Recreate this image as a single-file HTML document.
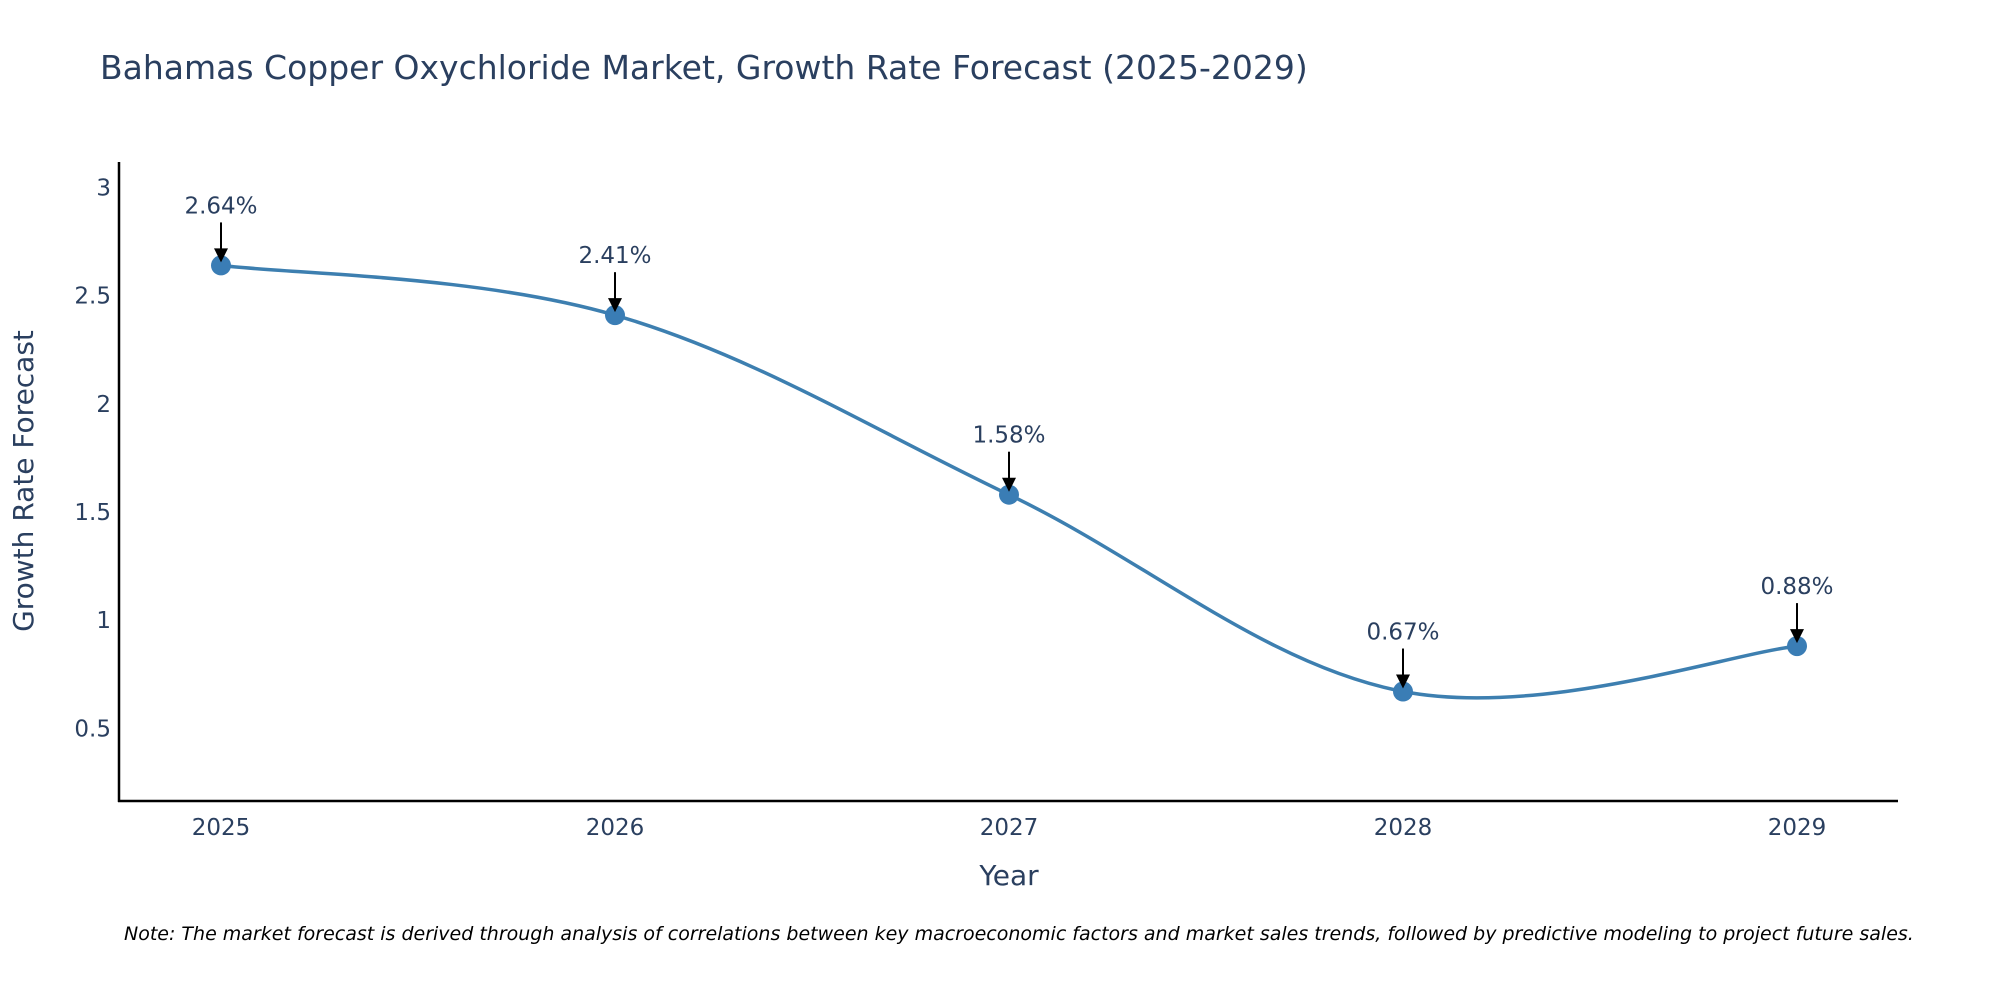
<!DOCTYPE html>
<html><head><meta charset="utf-8"><style>
body{margin:0;background:#fff;}
svg{font-family:"DejaVu Sans","Liberation Sans",sans-serif;}
</style></head><body>
<svg id="chart" width="2000" height="1000">
<text x="100" y="79" font-size="33" fill="#2a3f5f">Bahamas Copper Oxychloride Market, Growth Rate Forecast (2025-2029)</text>
<g id="grid"></g>
<path id="line" fill="none" stroke="#3d7fb0" stroke-width="3.5"></path>
<g id="marks"></g>
<line x1="119" y1="162" x2="119" y2="802" stroke="#000" stroke-width="2.5"/>
<line x1="118" y1="801" x2="1898" y2="801" stroke="#000" stroke-width="2.5"/>
<text x="33" y="481" font-size="28" fill="#2a3f5f" text-anchor="middle" transform="rotate(-90 33 481)">Growth Rate Forecast</text>
<text x="1009" y="885" font-size="28" fill="#2a3f5f" text-anchor="middle">Year</text>
<text x="124" y="940" font-size="19" font-style="italic" fill="#000">Note: The market forecast is derived through analysis of correlations between key macroeconomic factors and market sales trends, followed by predictive modeling to project future sales.</text>
</svg>
<script>
const years = ['2025','2026','2027','2028','2029'];
const values = [2.64, 2.41, 1.58, 0.67, 0.88];
const labels = ['2.64%','2.41%','1.58%','0.67%','0.88%'];
const yTicks = [0.5, 1, 1.5, 2, 2.5, 3];
const yTickLabels = ['0.5','1','1.5','2','2.5','3'];

const NS='http://www.w3.org/2000/svg';
const svg=document.getElementById('chart');
const xPos=i=>221+i*394;
const yPos=v=>728.3-(v-0.5)*216.3;
function el(t,a,p){const e=document.createElementNS(NS,t);for(const k in a)e.setAttribute(k,a[k]);(p||svg).appendChild(e);return e;}
const grid=document.getElementById('grid'), marks=document.getElementById('marks');
yTicks.forEach((v,i)=>{
  const t=el('text',{x:111,y:yPos(v)+8,'font-size':23,fill:'#2a3f5f','text-anchor':'end'},grid);
  t.textContent=yTickLabels[i];
  
  
});
years.forEach((y,i)=>{
  const t=el('text',{x:xPos(i),y:835,'font-size':23,fill:'#2a3f5f','text-anchor':'middle'},grid);
  t.textContent=y;
  
  
});
const pts=values.map((v,i)=>[xPos(i),yPos(v)]);
let d='M'+pts[0][0]+','+pts[0][1];
const k=0.35;
for(let i=0;i<pts.length-1;i++){
  const p0=pts[i-1]||pts[i],p1=pts[i],p2=pts[i+1],p3=pts[i+2]||pts[i+1];
  const c1=[p1[0]+(p2[0]-p0[0])*k/2, p1[1]+(p2[1]-p0[1])*k/2];
  const c2=[p2[0]-(p3[0]-p1[0])*k/2, p2[1]-(p3[1]-p1[1])*k/2];
  d+=' C'+c1[0]+','+c1[1]+' '+c2[0]+','+c2[1]+' '+p2[0]+','+p2[1];
}
document.getElementById('line').setAttribute('d',d);
pts.forEach((p,i)=>{
  const c=el('circle',{cx:p[0],cy:p[1],r:10,fill:'#3a7db5'},marks);
  
  
  const a=el('line',{x1:p[0],y1:p[1]-43,x2:p[0],y2:p[1]-16,stroke:'#000','stroke-width':2},marks);
  
  
  const h=el('polygon',{points:`${p[0]-7},${p[1]-17} ${p[0]+7},${p[1]-17} ${p[0]},${p[1]-3}`,fill:'#000'},marks);
  
  
  const t=el('text',{x:p[0],y:p[1]-52,'font-size':23,fill:'#2a3f5f','text-anchor':'middle'},marks);
  t.textContent=labels[i];
  
  
});
</script>
</body></html>
